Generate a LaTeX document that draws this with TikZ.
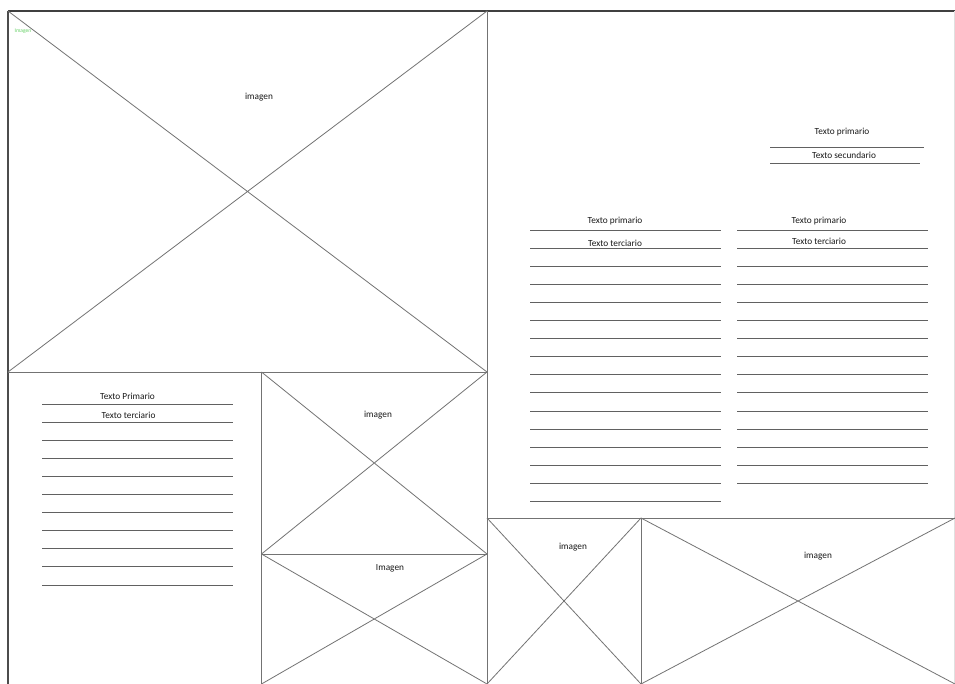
\documentclass[tikz,border=0pt]{standalone}
\usepackage{fontspec}
\setmainfont{Carlito}
\begin{document}
\begin{tikzpicture}[x=1pt,y=-1pt,
  frame/.style={draw=black!75, line width=1.4pt},
  wf/.style={draw=black!55, line width=0.8pt},
  txtline/.style={draw=black!62, line width=0.9pt},
  lbl/.style={font=\fontsize{9.3}{10}\selectfont, text=black!90, inner sep=0pt},
  tiny/.style={font=\fontsize{5.5}{6}\selectfont, text=green!70!black!60, inner sep=0pt}]
\useasboundingbox (0,0) rectangle (955,684);
\fill[white] (0,0) rectangle (955,684);

% corner coordinates
\coordinate (tl) at (8,11);
\coordinate (tm) at (487,11);
\coordinate (tr) at (955,11);
\coordinate (ml) at (8,372);
\coordinate (mm) at (487,372);
\coordinate (mq) at (261.5,372);
\coordinate (bl) at (8,684);
\coordinate (bq) at (261.5,684);
\coordinate (bm) at (487,684);
\coordinate (cq) at (261.5,554);
\coordinate (cm) at (487,554);
\coordinate (rm) at (487,518);
\coordinate (rk) at (641,518);
\coordinate (rr) at (955,518);
\coordinate (bk) at (641,684);
\coordinate (br) at (955,684);

% outer frame
\draw[frame] (tl) -- (tr);
\draw[draw=black!70, line width=1.1pt] (tl) -- (bl);
\draw[draw=black!12, line width=0.5pt] (954.5,11) -- (954.5,684);

% structure lines
\draw[wf] (ml) -- (mm);
\draw[wf] (tm) -- (bm);
\draw[wf] (mq) -- (bq);
\draw[wf] (cq) -- (cm);
\draw[wf] (rm) -- (rr);
\draw[wf] (rk) -- (bk);

% image crosses
\draw[wf] (tl) -- (mm) (tm) -- (ml);
\draw[wf] (mq) -- (cm) (mm) -- (cq);
\draw[wf] (cq) -- (bm) (cm) -- (bq);
\draw[wf] (rm) -- (bk) (rk) -- (bm);
\draw[wf] (rk) -- (br) (rr) -- (bk);

% image labels
\node[lbl] (i1) at (259,97) {imagen};
\node[lbl] (i2) at (378,415) {imagen};
\node[lbl] (i3) at (390,568) {Imagen};
\node[lbl] (i4) at (573,547) {imagen};
\node[lbl] (i5) at (818,556) {imagen};
\node[tiny] (g1) at (23,31) {Imagen};

% top-right heading
\draw[txtline] (770,147) -- (924,147);
\draw[txtline] (770,163.5) -- (920,163.5);
\node[lbl] (h1) at (842,132) {Texto primario};
\node[lbl] (h2) at (844,155) {Texto secundario};

% right columns
\foreach \i in {0,...,15} {\draw[txtline] (530,230+18.1*\i) -- (721,230+18.1*\i);}
\foreach \i in {0,...,14} {\draw[txtline] (737,230+18.1*\i) -- (928,230+18.1*\i);}
\node[lbl] (a1) at (615,221.5) {Texto primario};
\node[lbl] (a2) at (615,243) {Texto terciario};
\node[lbl] (b1) at (819,221) {Texto primario};
\node[lbl] (b2) at (819,241.5) {Texto terciario};

% bottom-left block
\foreach \i in {0,...,10} {\draw[txtline] (42,404+18.1*\i) -- (233,404+18.1*\i);}
\node[lbl] (c1) at (127.5,396.5) {Texto Primario};
\node[lbl] (c2) at (128.5,415) {Texto terciario};
\end{tikzpicture}
\end{document}
